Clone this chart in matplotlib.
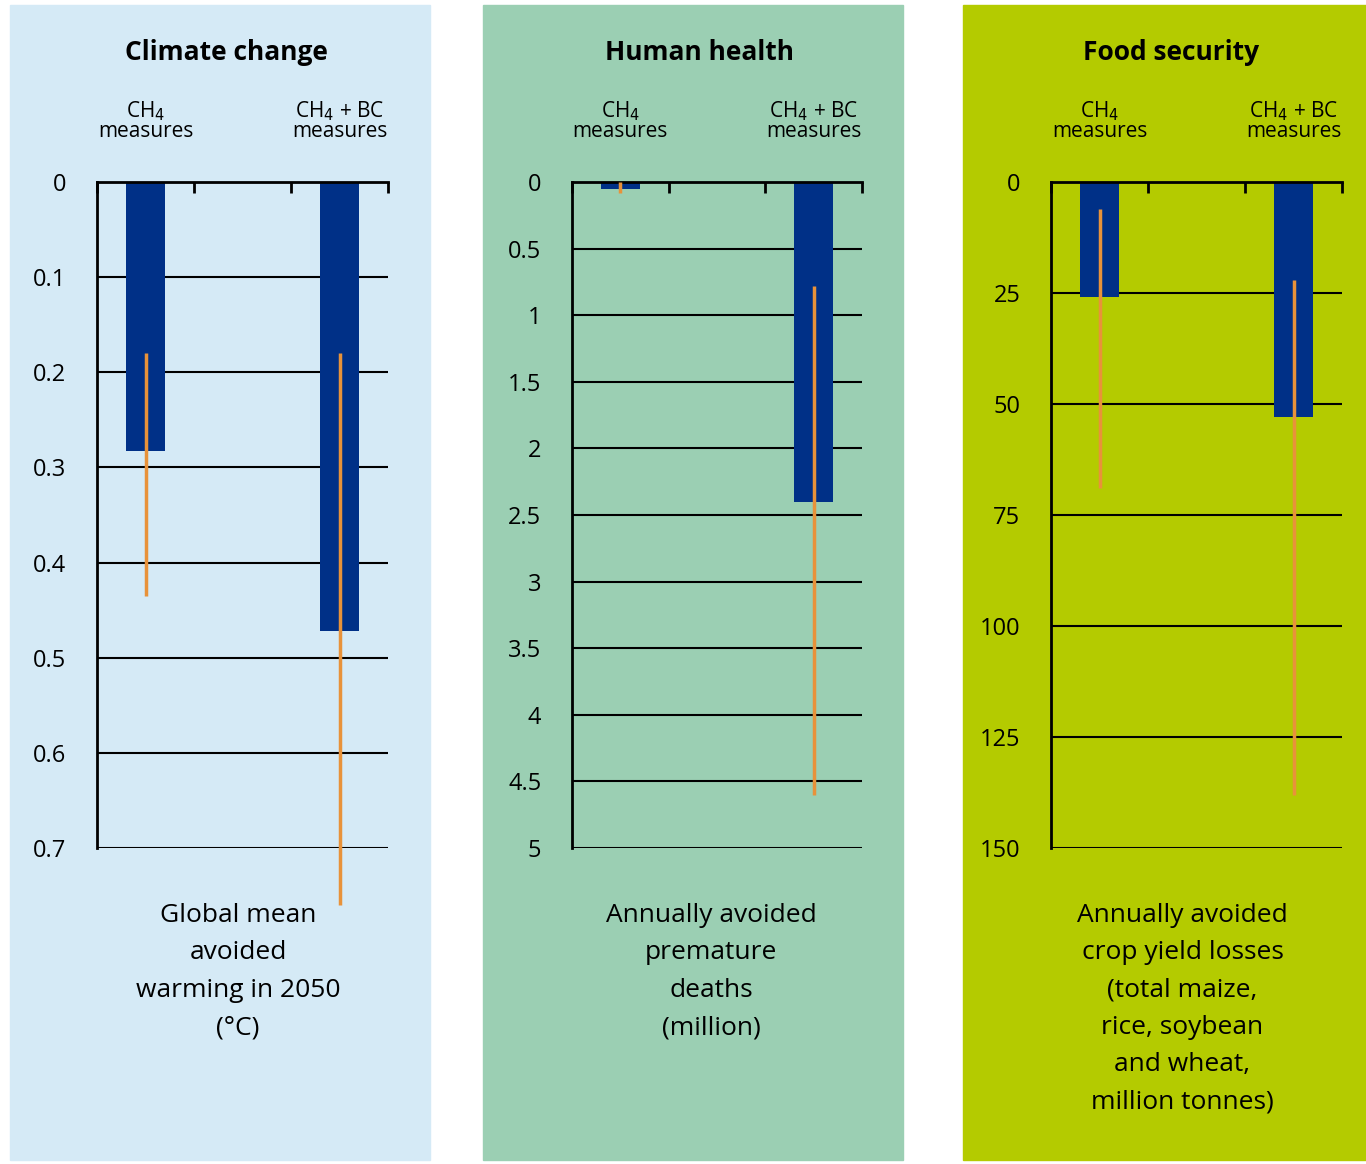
import matplotlib
matplotlib.use("Agg")
import matplotlib.pyplot as plt
from matplotlib.patches import Rectangle

plt.rcParams['font.family'] = ['Open Sans', 'DejaVu Sans']

titles = ["Climate change", "Human health", "Food security"]
categories = ["CH$_4$\nmeasures", "CH$_4$ + BC\nmeasures"]
bar_values = [[0.283, 0.472], [0.05, 2.4], [26, 53]]
err_low = [[0.18, 0.18], [0.0, 0.78], [6, 22]]
err_high = [[0.435, 0.76], [0.08, 4.6], [69, 138]]
ymax = [0.7, 5, 150]
yticks = [[0, 0.1, 0.2, 0.3, 0.4, 0.5, 0.6, 0.7],
          [0, 0.5, 1, 1.5, 2, 2.5, 3, 3.5, 4, 4.5, 5],
          [0, 25, 50, 75, 100, 125, 150]]
ytick_labels = [["0", "0.1", "0.2", "0.3", "0.4", "0.5", "0.6", "0.7"],
                ["0", "0.5", "1", "1.5", "2", "2.5", "3", "3.5", "4", "4.5", "5"],
                ["0", "25", "50", "75", "100", "125", "150"]]
captions = ["Global mean\navoided\nwarming in 2050\n(°C)",
            "Annually avoided\npremature\ndeaths\n(million)",
            "Annually avoided\ncrop yield losses\n(total maize,\nrice, soybean\nand wheat,\nmillion tonnes)"]
bg_colors = ["#d5eaf6", "#9bcfb3", "#b4cb00"]
bg_x = [(10, 430), (483, 903), (963, 1366)]
ax_x = [(97, 388), (572, 862), (1051, 1342)]

W, H = 1366, 1164
fig = plt.figure(figsize=(W / 100, H / 100), dpi=100)
fig.patch.set_facecolor("white")

for i in range(3):
    x0, x1 = bg_x[i]
    fig.patches.append(Rectangle((x0 / W, 1 - 1160 / H), (x1 - x0) / W, 1155 / H,
                                 transform=fig.transFigure, color=bg_colors[i], zorder=-10))
    a0, a1 = ax_x[i]
    ax = fig.add_axes([a0 / W, 1 - 848 / H, (a1 - a0) / W, (848 - 182) / H])
    ax.set_facecolor("none")
    ax.set_xlim(-0.25, 1.25)
    ax.set_ylim(ymax[i], 0)
    ax.bar([0, 1], bar_values[i], width=0.2, color="#003087", zorder=2)
    for j in range(2):
        ax.plot([j, j], [err_low[i][j], err_high[i][j]], color="#e8923a", lw=2.5,
                zorder=3, clip_on=False, solid_capstyle="butt")
    ax.set_yticks(yticks[i])
    ax.set_yticklabels(ytick_labels[i], fontsize=17)
    ax.tick_params(axis="y", length=0, pad=22)
    ax.grid(axis="y", color="black", lw=1.5, zorder=1)
    ax.set_xticks([-0.25, 0.25, 0.75, 1.25])
    ax.xaxis.tick_top()
    ax.tick_params(axis="x", top=True, labeltop=False, direction="in", length=8, width=2)
    for s in ["right", "bottom"]:
        ax.spines[s].set_visible(False)
    for s in ["left", "top"]:
        ax.spines[s].set_linewidth(2)
    for j, c in enumerate(categories):
        ax.text(j, 1.06, c, transform=ax.get_xaxis_transform(), ha="center",
                va="bottom", fontsize=15, linespacing=0.85)
    cx = (x0 + x1) / 2 / W
    fig.text(cx + 0.005, 1 - 53 / H, titles[i], ha="center", va="center",
             fontsize=19, fontweight="bold")
    fig.text(cx + 18 / W, 1 - 903 / H, captions[i], ha="center", va="top",
             fontsize=19, linespacing=1.65)

fig.savefig("out.png", dpi=100)
